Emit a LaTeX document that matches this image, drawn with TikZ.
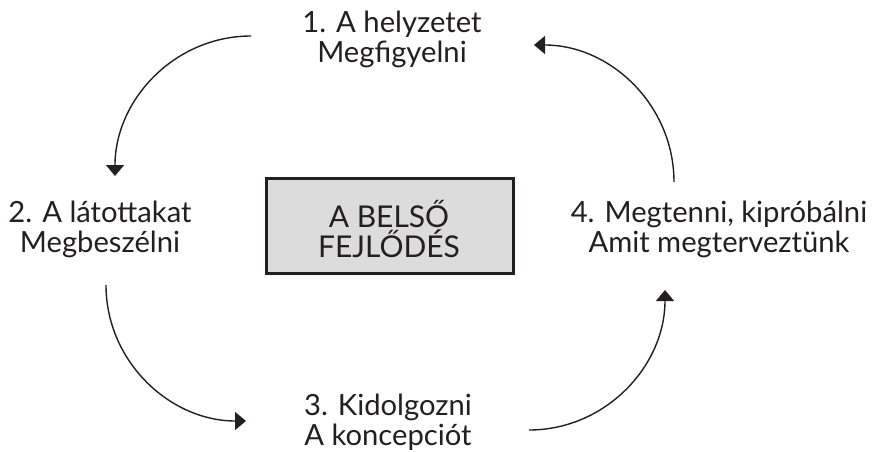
\documentclass[tikz,border=0pt]{standalone}
\usepackage{fontspec}
\setmainfont{Lato}
\usetikzlibrary{arrows.meta}
\definecolor{ink}{HTML}{231F20}
\definecolor{boxfill}{HTML}{DCDCDD}
\begin{document}
\begin{tikzpicture}[x=0.5pt,y=0.5pt,
  label/.style={align=center,text=ink,inner sep=0pt,
    font=\fontsize{14.6}{15}\selectfont},
  centre/.style={draw=ink,fill=boxfill,line width=1.5pt,
    minimum width=123.5pt,minimum height=47.5pt,inner sep=0pt},
  flow/.style={draw=ink,line width=0.7pt,
    -{Triangle[length=5.5pt,width=9pt]}}]
\useasboundingbox (0,0) rectangle (875,-451);

% central box
\node[centre] (core) at (389.5,-225.5) {};
\node[label,font=\fontsize{15}{15}\selectfont] (coretext) at (389,-229) {A BELSŐ\\FEJLŐDÉS};

% the four stages
\node[label] (s1) at (392,-39)  {1. A helyzetet\\Megfigyelni};
\node[label] (s2) at (100,-229) {2. A látottakat\\Megbeszélni};
\node[label] (s3) at (388,-422) {3. Kidolgozni\\A koncepciót};
\node[label] (s4) at (719,-229) {4. Megtenni, kipróbálni\\Amit megterveztünk};

% arc end points
\coordinate (a1s) at (251,-36);
\coordinate (a1e) at (115,-176);
\coordinate (a2s) at (106,-285);
\coordinate (a2e) at (246,-421);
\coordinate (a3s) at (529,-430);
\coordinate (a3e) at (665,-290);
\coordinate (a4s) at (674,-182);
\coordinate (a4e) at (534,-45);

% cycle arrows
\draw[flow] (a1s) to[out=180,in=90] (a1e);
\draw[flow] (a2s) to[out=-90,in=180] (a2e);
\draw[flow] (a3s) to[out=0,in=-90] (a3e);
\draw[flow] (a4s) to[out=90,in=0] (a4e);
\end{tikzpicture}
\end{document}
